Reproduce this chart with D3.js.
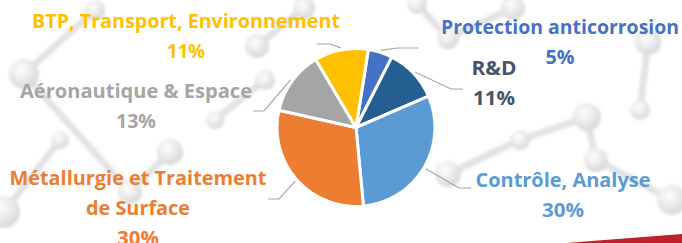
<!DOCTYPE html>
<html lang="fr">
<head>
<meta charset="UTF-8">
<title>Répartition par secteur</title>
<script src="https://d3js.org/d3.v7.min.js"></script>
<style>
    body { margin: 0; background: #fff; overflow: hidden; }
    svg { display: block; }
    .label { font-family: "Open Sans", Lato, sans-serif; font-weight: bold; font-size: 19.5px; text-anchor: middle; }
    .leader { fill: none; stroke: #a6a6a6; stroke-width: 1.2px; }
</style>
</head>
<body>
<div id="chart"></div>
<script>
    // données
    const categories = ["Protection anticorrosion", "R&D", "Contrôle, Analyse",
        "Métallurgie et Traitement de Surface", "Aéronautique & Espace", "BTP, Transport, Environnement"];
    const values = [5, 11, 30, 30, 13, 11];
    const sliceColors = ["#4472c4", "#255e91", "#5b9bd5", "#ed7d31", "#a5a5a5", "#ffc000"];
    const textColors = ["#4472c4", "#44546a", "#5b9bd5", "#ed7d31", "#a5a5a5", "#ffc000"];
    const nameLines = [["Protection anticorrosion"], ["R&D"], ["Contrôle, Analyse"],
        ["Métallurgie et Traitement", "de Surface"], ["Aéronautique & Espace"], ["BTP, Transport, Environnement"]];

    // mise en page des étiquettes (centre x, première ligne de base, coude et fin du trait)
    const labelLayout = [
        { x: 560, y: 34, widths: [238, 29], elbow: [397, 48], end: [418, 48] },
        { x: 494, y: 75, widths: [45, 42], elbow: [451, 89], end: [463, 89] },
        { x: 563, y: 187, widths: [175, 42], elbow: [459, 188], end: [471, 188] },
        { x: 138, y: 185, widths: [257, 104, 42], elbow: [279, 199], end: [268, 199] },
        { x: 136, y: 98, widths: [232, 40], elbow: [264, 111], end: [253, 111] },
        { x: 186, y: 28, widths: [308, 38], elbow: [330, 44], end: [317, 44] }
    ];

    const width = 682, height = 243;
    const cx = 356, cy = 127.5, radius = 79;
    const lineGap = 30;

    const svg = d3.select("#chart").append("svg")
        .attr("width", width).attr("height", height);

    // fond : molécules estompées
    const defs = svg.append("defs");
    const grad = defs.append("radialGradient").attr("id", "ball")
        .attr("cx", "40%").attr("cy", "35%").attr("r", "65%");
    grad.append("stop").attr("offset", "0%").attr("stop-color", "#ffffff");
    grad.append("stop").attr("offset", "60%").attr("stop-color", "#d9d9d9");
    grad.append("stop").attr("offset", "100%").attr("stop-color", "#bdbdbd");
    defs.append("filter").attr("id", "soft")
        .append("feGaussianBlur").attr("stdDeviation", 1.5);

    const balls = [[24, 74, 15], [4, 212, 16], [257, 46, 12], [265, 80, 10], [170, 152, 13],
        [130, 192, 12], [448, 174, 13], [587, 117, 14], [648, 42, 13], [672, 200, 15],
        [448, 38, 11], [513, 8, 12], [417, 4, 10], [304, 8, 11], [596, 160, 12], [215, 120, 9],
        [95, 10, 10], [60, 140, 9], [520, 140, 10], [640, 110, 10]];
    const sticks = [[24, 74, 130, 192], [130, 192, 170, 152], [4, 212, 60, 140], [257, 46, 304, 8],
        [265, 80, 215, 120], [448, 38, 513, 8], [448, 174, 520, 140], [587, 117, 596, 160],
        [596, 160, 672, 200], [648, 42, 640, 110], [417, 4, 448, 38], [95, 10, 24, 74], [520, 140, 587, 117]];
    const bg = svg.append("g").attr("opacity", 0.6).attr("filter", "url(#soft)");
    bg.selectAll("line").data(sticks).join("line")
        .attr("x1", d => d[0]).attr("y1", d => d[1]).attr("x2", d => d[2]).attr("y2", d => d[3])
        .attr("stroke", "#d0d0d0").attr("stroke-width", 7).attr("stroke-linecap", "round");
    bg.selectAll("circle").data(balls).join("circle")
        .attr("cx", d => d[0]).attr("cy", d => d[1]).attr("r", d => d[2])
        .attr("fill", "url(#ball)");

    // bande blanche et trait rouge en bas
    svg.append("path").attr("d", "M0,243 L0,236 L682,226 L682,243 Z").attr("fill", "#fff");
    svg.append("path").attr("d", "M566,243 L682,234 L682,243 Z").attr("fill", "#c0202a");

    // camembert
    const start = 9 * Math.PI / 180;
    const pie = d3.pie().sort(null).startAngle(start).endAngle(start + 2 * Math.PI);
    const arcs = pie(values);
    const arc = d3.arc().innerRadius(0).outerRadius(radius);
    const g = svg.append("g").attr("transform", `translate(${cx},${cy})`);
    g.selectAll("path").data(arcs).join("path")
        .attr("d", arc)
        .attr("fill", (d, i) => sliceColors[i])
        .attr("stroke", "#fff").attr("stroke-width", 3).attr("stroke-linejoin", "round");

    // traits de rappel
    const outer = d3.arc().innerRadius(radius + 2).outerRadius(radius + 2);
    svg.selectAll(".leader").data(arcs).join("path")
        .attr("class", "leader")
        .attr("d", (d, i) => {
            const p = outer.centroid(d);
            const L = labelLayout[i];
            return d3.line()([[cx + p[0], cy + p[1]], L.elbow, L.end]);
        });

    // étiquettes
    arcs.forEach((d, i) => {
        const L = labelLayout[i];
        const lines = nameLines[i].concat([values[i] + "%"]);
        const t = svg.append("text").attr("class", "label")
            .attr("fill", textColors[i]);
        lines.forEach((s, k) => {
            const ts = t.append("tspan").attr("x", L.x).attr("y", L.y + k * lineGap).text(s);
            if (L.widths[k]) ts.attr("textLength", L.widths[k]).attr("lengthAdjust", "spacingAndGlyphs");
        });
    });
</script>
</body>
</html>
